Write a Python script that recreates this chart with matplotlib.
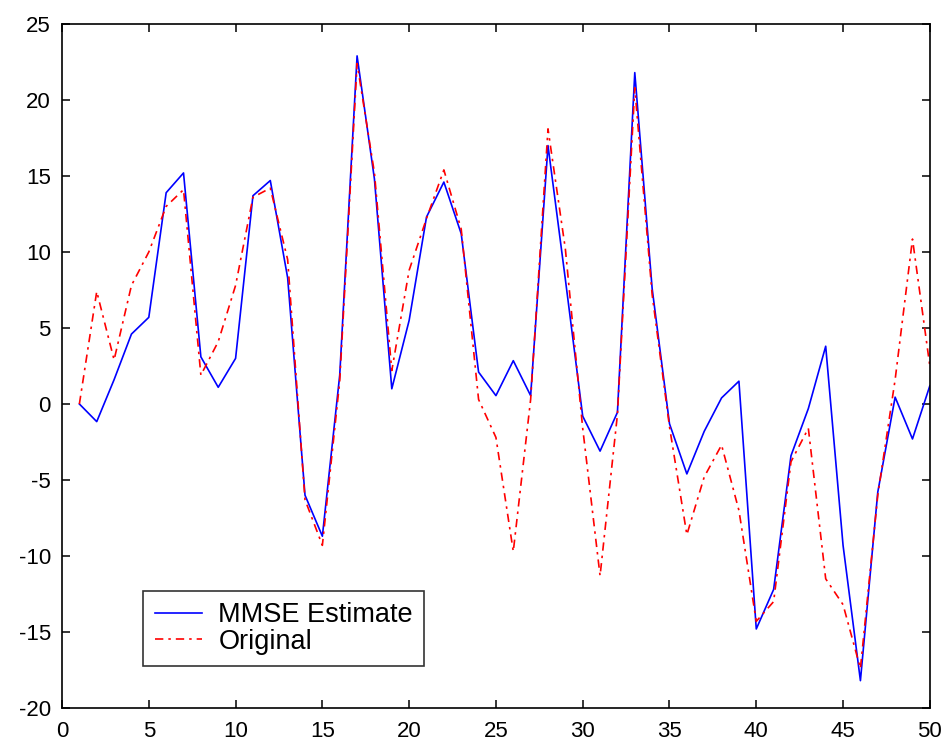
import numpy as np
import matplotlib
matplotlib.use("Agg")
from matplotlib import pyplot as plt

plt.rcParams['font.family'] = ['Liberation Sans', 'DejaVu Sans']
plt.rcParams['axes.unicode_minus'] = False

# sample index
n = np.arange(1, 51)

# MMSE estimate of the signal
estimate = [0.0, -1.16, 1.6, 4.6, 5.7, 13.9, 15.2, 3.1, 1.1, 3.0,
            13.7, 14.7, 8.3, -6.0, -8.7, 1.9, 22.9, 14.8, 1.0, 5.5,
            12.3, 14.6, 11.2, 2.1, 0.55, 2.85, 0.55, 17.0, 8.2, -0.8,
            -3.1, -0.55, 21.8, 7.6, -1.3, -4.6, -1.8, 0.4, 1.5, -14.8,
            -12.2, -3.4, -0.3, 3.8, -9.3, -18.2, -5.8, 0.45, -2.3, 1.2]

# original signal
original = [0.0, 7.4, 2.9, 7.8, 10.0, 13.0, 14.1, 1.9, 4.1, 7.8,
            13.6, 14.2, 9.5, -6.3, -9.3, 1.5, 22.4, 15.2, 2.2, 8.8,
            12.2, 15.4, 11.5, 0.3, -2.2, -9.7, 0.3, 18.1, 10.2, -1.6,
            -11.3, -0.7, 20.8, 7.2, -1.5, -8.6, -4.8, -2.7, -7.0, -14.3,
            -13.0, -3.8, -1.6, -11.5, -13.2, -17.4, -6.0, 1.6, 10.85, 2.5]

fig = plt.figure(figsize=(9.44, 7.42), dpi=100)
ax = fig.add_axes([0.0657, 0.0458, 0.9193, 0.9219])

ax.plot(n, estimate, color='#0000ff', lw=1.2, label='MMSE Estimate')
ax.plot(n, original, color='#ff0000', lw=1.2, dashes=(5, 3, 1.5, 3),
        label='Original')

ax.set_xlim(0, 50)
ax.set_ylim(-20, 25)
ax.set_xticks(np.arange(0, 51, 5))
ax.set_yticks(np.arange(-20, 26, 5))
ax.tick_params(direction='in', length=6, width=1.1, top=True, right=True,
               labelsize=16)
ax.tick_params(axis='x', pad=9.5)
ax.tick_params(axis='y', pad=8)
for s in ax.spines.values():
    s.set_linewidth(1.2)

leg = ax.legend(loc='lower left', bbox_to_anchor=(0.0937, 0.0614),
                borderaxespad=0, fancybox=False, fontsize=19.5,
                handlelength=1.75, handletextpad=0.6, labelspacing=0.02,
                borderpad=0.42)
leg.get_frame().set_edgecolor('black')
leg.get_frame().set_linewidth(1.2)

fig.savefig('out.png', dpi=100)
